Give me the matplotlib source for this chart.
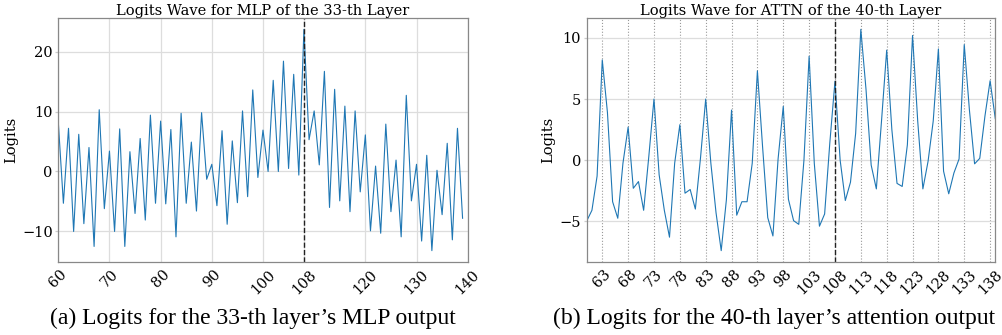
import numpy as np
import matplotlib
matplotlib.use("Agg")
import matplotlib.pyplot as plt

plt.rcParams['font.family'] = 'DejaVu Serif'

# layer 33 MLP logits, positions 60..139
mlp_pos = list(range(60, 140))
mlp_logits = [8.3, -5.3, 7.2, -10.0, 6.2, -8.7, 4.0, -12.5, 10.3, -6.2,
              3.4, -10.0, 7.1, -12.5, 3.3, -7.0, 5.5, -8.1, 9.4, -5.3,
              8.4, -5.4, 7.0, -10.9, 9.7, -5.3, 4.9, -6.6, 9.8, -1.3,
              1.2, -5.7, 6.8, -8.8, 5.1, -5.2, 10.1, -4.2, 13.6, -1.0,
              6.9, 0.0, 15.2, 0.0, 18.4, 0.5, 16.2, -0.6, 23.7, 5.3,
              10.1, 1.1, 16.7, -6.0, 13.7, -4.9, 10.9, -6.7, 10.1, -3.4,
              6.1, -9.9, 0.9, -10.3, 7.9, -6.7, 1.9, -10.9, 12.7, -4.9,
              1.2, -11.6, 2.7, -13.2, 0.2, -7.2, 4.7, -11.4, 7.2, -7.8]
mlp_ticks = [60, 70, 80, 90, 100, 108, 120, 130, 140]

# layer 40 attention logits, positions 60..139
attn_pos = list(range(60, 140))
attn_logits = [-4.97, -4.1, -1.3, 8.2, 3.9, -3.4, -4.75, -0.25, 2.7, -2.3,
               -1.75, -4.1, 0.3, 5.0, -1.2, -4.1, -6.3, -0.25, 2.9, -2.7,
               -2.4, -4.0, 0.2, 5.0, -0.25, -4.3, -7.4, -3.25, 4.1, -4.5,
               -3.4, -3.4, -0.25, 7.3, 1.1, -4.7, -6.2, 0.1, 4.4, -3.2,
               -4.95, -5.25, 0.0, 8.5, -0.25, -5.4, -4.4, 1.4, 6.45, 0.0,
               -3.3, -1.8, 2.2, 10.7, 5.8, -0.4, -2.35, 3.2, 9.0, 2.5,
               -1.9, -2.15, 1.25, 10.2, 3.2, -2.35, -0.1, 3.2, 9.1, -0.9,
               -2.75, -1.05, 0.1, 9.45, 4.1, -0.3, 0.15, 3.6, 6.5, 3.4]
attn_ticks = list(range(63, 139, 5))

mark_pos = 108
line_color = '#1f77b4'
fs = 10.5

fig = plt.figure(figsize=(10.03, 3.35), dpi=100)
ax1 = fig.add_axes([0.0581, 0.2188, 0.4082, 0.7266])
ax2 = fig.add_axes([0.5850, 0.2188, 0.4073, 0.7266])

for ax in (ax1, ax2):
    for s in ax.spines.values():
        s.set_color('#888888')
        s.set_linewidth(0.9)
    ax.tick_params(axis='x', length=0, labelsize=fs, pad=4)
    ax.tick_params(axis='y', length=2.5, width=0.9, color='#cccccc',
                   labelsize=fs, pad=1.5)
    ax.grid(axis='y', color='#dddddd', linewidth=0.9)
    ax.set_axisbelow(True)
    ax.set_ylabel('Logits', fontsize=fs, labelpad=3)

# left panel
ax1.plot(mlp_pos, mlp_logits, color=line_color, linewidth=0.8)
ax1.axvline(mark_pos, color='#222222', linestyle='--', linewidth=1.0)
ax1.set_xlim(60, 140)
ax1.set_xticks(mlp_ticks)
ax1.set_xticklabels([str(t) for t in mlp_ticks], rotation=45, fontsize=fs)
ax1.set_yticks([-10, 0, 10, 20])
ax1.grid(axis='x', color='#dddddd', linewidth=0.9)
ax1.set_title('Logits Wave for MLP of the 33-th Layer', fontsize=fs, pad=2)

# right panel
ax2.plot(attn_pos, attn_logits, color=line_color, linewidth=0.8)
for t in attn_ticks:
    ax2.axvline(t, color='#999999', linestyle=':', linewidth=0.8, zorder=0)
ax2.axvline(mark_pos, color='#222222', linestyle='--', linewidth=1.0)
ax2.set_xlim(60, 139)
ax2.set_xticks(attn_ticks)
ax2.set_xticklabels([str(t) for t in attn_ticks], rotation=45, fontsize=fs)
ax2.set_yticks([-5, 0, 5, 10])
ax2.set_title('Logits Wave for ATTN of the 40-th Layer', fontsize=fs, pad=2)

fig.text(0.050, 0.05, "(a) Logits for the 33-th layer\u2019s MLP output",
         family='Liberation Serif', fontsize=17, ha='left', va='center')
fig.text(0.551, 0.05, "(b) Logits for the 40-th layer\u2019s attention output",
         family='Liberation Serif', fontsize=17, ha='left', va='center')

fig.savefig('out.png', dpi=100)
